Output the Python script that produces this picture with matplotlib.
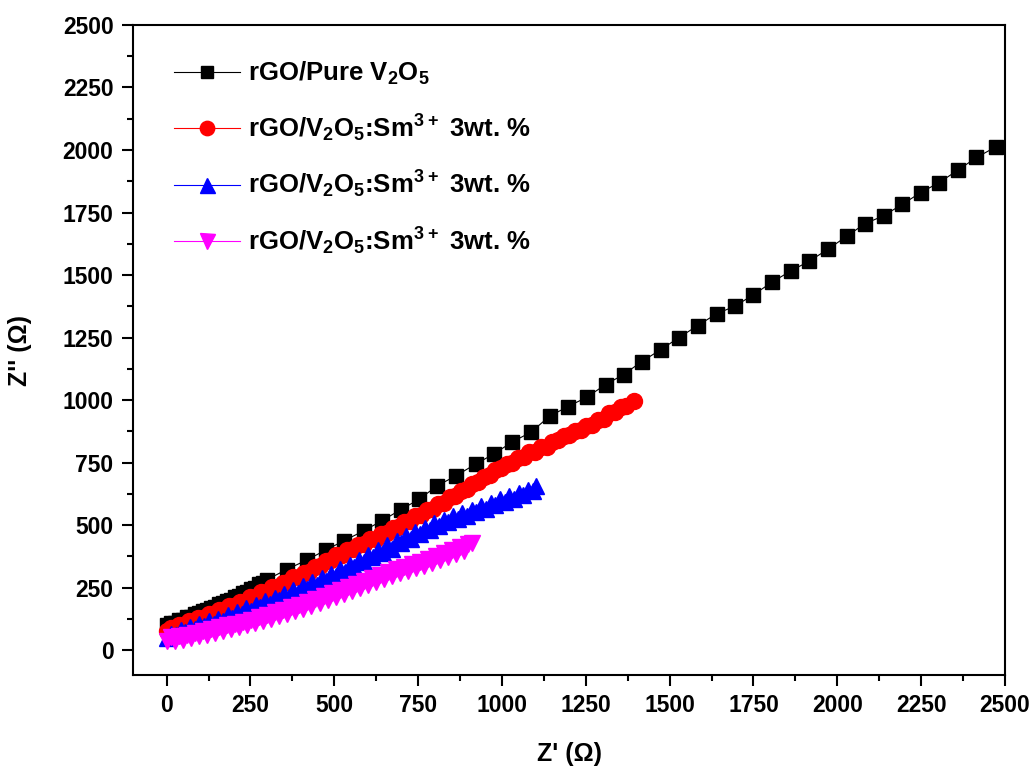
import matplotlib
matplotlib.use('Agg')
import matplotlib.pyplot as plt
from matplotlib.ticker import MultipleLocator

# rGO/Pure V2O5 (black squares)
black_x = [2, 12, 24, 36, 48, 60, 72, 84, 96, 108, 120, 132, 144, 156, 168, 180, 192, 204, 216, 228,
           240, 252, 264, 276, 288, 300,
           358, 418, 476, 529, 588, 642, 699, 753, 807, 863, 923, 977, 1029, 1086, 1142, 1197, 1253,
           1309, 1363, 1417, 1473, 1527, 1584, 1640, 1694, 1750, 1806, 1861, 1917, 1972, 2028, 2082,
           2138, 2194, 2249, 2304, 2359, 2415, 2472]
black_y = [100, 107, 110, 119, 122, 131, 134, 143, 147, 156, 160, 169, 173, 183, 187, 197, 201, 211, 216, 227,
           232, 243, 250, 263, 270, 282,
           322, 360, 401, 437, 477, 517, 562, 603, 657, 697, 745, 785, 831, 871, 935, 974, 1011,
           1062, 1102, 1154, 1201, 1249, 1298, 1345, 1375, 1421, 1472, 1516, 1556, 1603, 1655, 1705,
           1737, 1783, 1830, 1870, 1919, 1970, 2012]

# red circles
red_x = [0, 12, 25, 38, 52, 66, 80, 95, 110, 125, 140, 155, 170, 186, 202, 218, 234, 250, 266, 282,
         298, 314, 330, 346, 362, 378, 394, 410, 426, 442, 458, 474, 490, 506, 522, 538, 555, 572, 589,
         606, 623, 640, 657, 674, 691, 708, 725, 742, 759, 776, 793, 810, 827, 844, 861, 878, 895, 912,
         929, 946, 963, 980, 997, 1014, 1031, 1048, 1065, 1082, 1099, 1116, 1133, 1150, 1167, 1184,
         1201, 1218, 1235, 1252, 1269, 1286, 1303, 1320, 1337, 1354, 1371, 1393]
red_y = [78, 90, 88, 102, 100, 116, 114, 130, 129, 145, 144, 160, 159, 175, 176, 193, 194, 212, 214, 231,
         234, 252, 254, 270, 272, 291, 293, 310, 314, 332, 336, 356, 361, 380, 382, 400, 403, 422, 424,
         444, 446, 466, 468, 488, 493, 512, 517, 536, 541, 560, 566, 586, 590, 612, 617, 638, 644, 666,
         672, 694, 700, 722, 727, 746, 748, 768, 771, 791, 793, 812, 814, 834, 839, 857, 860, 878,
         880, 897, 901, 920, 925, 947, 952, 971, 976, 995]

# blue triangles
blue_x = [0, 14, 28, 42, 56, 70, 84, 98, 112, 126, 140, 154, 168, 182, 196, 210, 224, 238, 252, 266,
          280, 294, 308, 322, 336, 350, 364, 378, 392, 406, 420, 434, 448, 462, 476, 490, 504, 518, 532,
          546, 560, 574, 588, 602, 616, 630, 644, 658, 672, 686, 700, 714, 728, 742, 756, 770, 784, 798,
          812, 826, 840, 854, 868, 882, 896, 910, 924, 938, 952, 966, 980, 994, 1008, 1022, 1036, 1050,
          1064, 1078, 1092, 1102]
blue_y = [48, 66, 60, 80, 74, 94, 86, 104, 96, 116, 106, 126, 118, 142, 130, 154, 146, 168, 158, 182,
          172, 196, 184, 210, 200, 224, 214, 240, 228, 256, 244, 272, 262, 290, 278, 306, 296, 324, 312,
          342, 334, 360, 352, 380, 372, 402, 388, 420, 406, 438, 428, 456, 446, 472, 464, 490, 480, 508,
          498, 522, 512, 536, 526, 548, 538, 562, 552, 576, 566, 590, 580, 604, 594, 616, 606, 630,
          620, 642, 636, 655]

# magenta down-triangles
mag_x = [0, 12, 24, 36, 48, 60, 72, 84, 96, 108, 120, 132, 144, 156, 168, 180, 192, 204, 216, 228,
         240, 252, 264, 276, 288, 300, 312, 324, 336, 348, 360, 372, 384, 396, 408, 420, 432, 444, 456,
         468, 480, 492, 504, 516, 528, 540, 552, 564, 576, 588, 600, 612, 624, 636, 648, 660, 672, 684,
         696, 708, 720, 732, 744, 756, 768, 780, 792, 804, 816, 828, 840, 852, 864, 876, 888, 900, 912]
mag_y = [36, 52, 36, 56, 42, 62, 48, 70, 56, 78, 62, 84, 70, 92, 78, 100, 86, 106, 92, 114,
         100, 122, 108, 132, 116, 142, 126, 152, 136, 162, 146, 172, 156, 182, 166, 192, 176, 204, 188,
         216, 200, 228, 212, 240, 226, 254, 238, 266, 250, 278, 262, 290, 274, 302, 286, 312, 298, 324,
         308, 334, 318, 344, 328, 354, 338, 366, 350, 376, 360, 388, 372, 400, 384, 412, 396, 426, 430]

labels = [r'rGO/Pure V$_2$O$_5$',
          r'rGO/V$_2$O$_5$:Sm$^{3+}$ 3wt. %',
          r'rGO/V$_2$O$_5$:Sm$^{3+}$ 3wt. %',
          r'rGO/V$_2$O$_5$:Sm$^{3+}$ 3wt. %']

plt.rcParams['font.family'] = ['Liberation Sans', 'DejaVu Sans']
plt.rcParams['font.weight'] = 'bold'
plt.rcParams['mathtext.fontset'] = 'custom'
plt.rcParams['mathtext.rm'] = 'Liberation Sans:bold'
plt.rcParams['mathtext.bf'] = 'Liberation Sans:bold'
plt.rcParams['mathtext.default'] = 'bf'

fig = plt.figure(figsize=(10.33, 7.69), dpi=100)
ax = fig.add_axes([0.1288, 0.1222, 0.8441, 0.8453])

ax.plot(black_x, black_y, color='black', marker='s', markersize=9.5, linewidth=0.8, label=labels[0])
ax.plot(red_x, red_y, color='#ff0000', marker='o', markersize=11.5, linewidth=0.8, label=labels[1])
ax.plot(blue_x, blue_y, color='#0000ff', marker='^', markersize=12, linewidth=0.8, label=labels[2])
ax.plot(mag_x, mag_y, color='#ff00ff', marker='v', markersize=12, linewidth=0.8, label=labels[3])

ax.set_xlim(-100, 2500)
ax.set_ylim(-100, 2500)
ax.xaxis.set_major_locator(MultipleLocator(250))
ax.xaxis.set_minor_locator(MultipleLocator(125))
ax.yaxis.set_major_locator(MultipleLocator(250))
ax.yaxis.set_minor_locator(MultipleLocator(125))
ax.tick_params(which='major', direction='out', length=8, width=1.5, labelsize=16.5, pad=6)
ax.tick_params(which='minor', direction='out', length=4.5, width=1.5)
for s in ax.spines.values():
    s.set_linewidth(1.5)
for lab in ax.get_xticklabels() + ax.get_yticklabels():
    lab.set_fontweight('bold')

ax.set_xlabel("Z' (\u03a9)", fontsize=18, fontweight='bold', labelpad=18)
ax.set_ylabel("Z'' (\u03a9)", fontsize=18, fontweight='bold', labelpad=22)

leg = ax.legend(loc='upper left', bbox_to_anchor=(0.02, 0.982), frameon=False,
                prop={'size': 18.5, 'weight': 'bold'}, handlelength=2.6, handletextpad=0.3,
                labelspacing=0.98, markerscale=0.9)

fig.savefig('out.png', dpi=100)
